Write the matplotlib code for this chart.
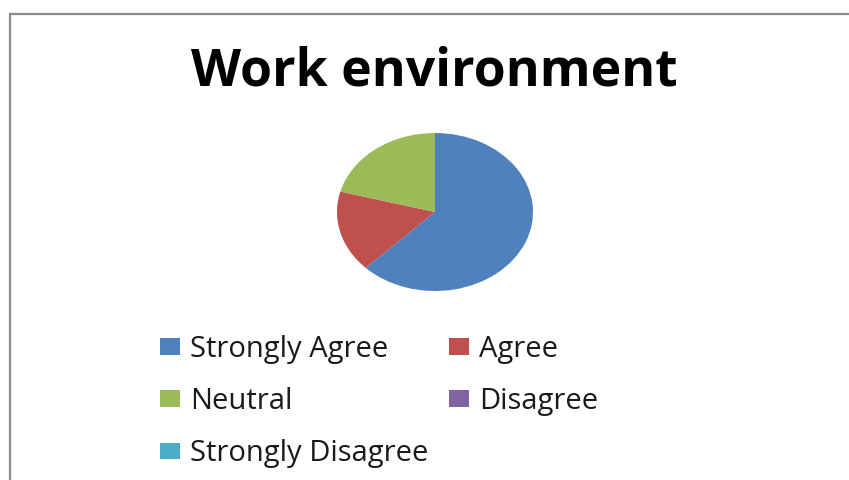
import matplotlib.pyplot as plt
from matplotlib.patches import Rectangle

# Survey responses for "Work environment"
labels = ["Strongly Agree", "Agree", "Neutral", "Disagree", "Strongly Disagree"]
counts = [30, 8, 10, 0, 0]
colors = ["#4F81BD", "#C0504D", "#9BBB59", "#8064A2", "#4BACC6"]

plt.rcParams['font.family'] = ['Open Sans', 'DejaVu Sans']

W, H = 849, 480
fig = plt.figure(figsize=(W / 100, H / 100), dpi=100)

# chart area frame, running off the right and bottom edges
fig.patches.append(Rectangle((10 / W, -0.05), 1.2, 1 - 14 / H + 0.05,
                             transform=fig.transFigure, fill=False,
                             edgecolor="#8a8a8a", linewidth=1.6))

fig.text(434 / W, 1 - 85 / H, "Work environment", ha="center", va="baseline",
         fontsize=37.3, fontweight="bold", color="black")

# slightly wide ellipse like the original sheet chart
ax = fig.add_axes([(435 - 98) / W, (H - 212 - 79) / H, 196 / W, 158 / H])
wedges, _ = ax.pie(counts, colors=colors, startangle=90, counterclock=False,
                   radius=1, wedgeprops=dict(linewidth=0))
ax.set_xlim(-1, 1)
ax.set_ylim(-1, 1)
ax.set_aspect("auto")
ax.axis("off")

# legend filled row by row: reorder for column-major layout
order = [0, 2, 4, 1, 3]
fig.legend([wedges[i] for i in order], [labels[i] for i in order],
           ncol=2, loc="upper left", bbox_to_anchor=(151 / W, 1 - 326 / H),
           frameon=False, fontsize=21, handlelength=0.69, handleheight=0.51,
           handletextpad=0.34, columnspacing=0.70, labelspacing=0.80,
           borderaxespad=0, borderpad=0.3, labelcolor="#1a1a1a")

fig.savefig("out.png", dpi=100)
